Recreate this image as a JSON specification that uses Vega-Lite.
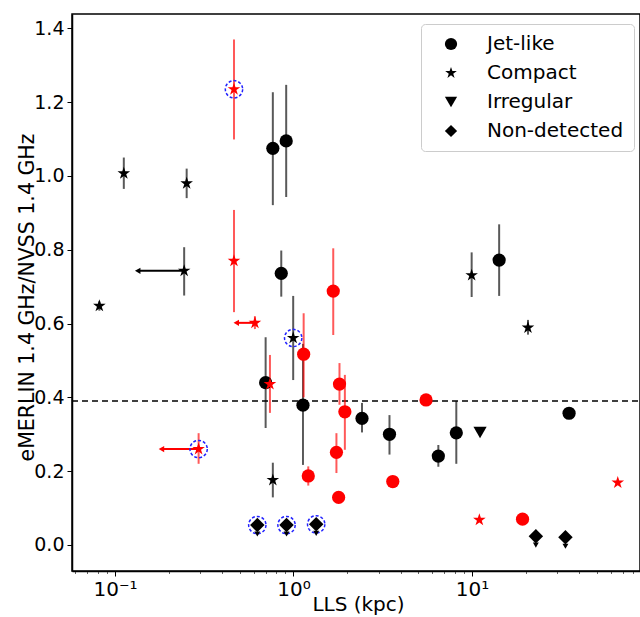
{
  "$schema": "https://vega.github.io/schema/vega-lite/v6.json",
  "autosize": {"type": "none"},
  "padding": {"left": 72, "top": 14, "right": 0, "bottom": 46},
  "width": 568,
  "height": 557,
  "background": "white",
  "config": {
    "view": {"stroke": "black", "strokeWidth": 1.5},
    "font": "DejaVu Sans",
    "axis": {"domainColor": "black", "domainWidth": 1.5, "tickColor": "black", "labelColor": "black", "titleColor": "black", "grid": false, "labelFont": "DejaVu Sans", "titleFont": "DejaVu Sans", "titleFontWeight": "normal"}
  },
  "datasets": {
    "pts": [
      {"x": 0.112, "y": 1.007, "lo": 0.965, "hi": 1.05, "cls": "Compact", "col": "k"},
      {"x": 0.252, "y": 0.980, "lo": 0.94, "hi": 1.02, "cls": "Compact", "col": "k"},
      {"x": 0.0817, "y": 0.648, "lo": 0.635, "hi": 0.66, "cls": "Compact", "col": "k"},
      {"x": 0.244, "y": 0.743, "lo": 0.676, "hi": 0.807, "xa": 0.134, "cls": "Compact", "col": "k"},
      {"x": 0.996, "y": 0.561, "lo": 0.447, "hi": 0.675, "cls": "Compact", "col": "k", "ring": 1},
      {"x": 0.766, "y": 0.176, "lo": 0.129, "hi": 0.223, "cls": "Compact", "col": "k"},
      {"x": 9.96, "y": 0.731, "lo": 0.672, "hi": 0.793, "cls": "Compact", "col": "k"},
      {"x": 20.6, "y": 0.589, "lo": 0.57, "hi": 0.61, "cls": "Compact", "col": "k"},
      {"x": 0.766, "y": 1.075, "lo": 0.921, "hi": 1.227, "cls": "Jet-like", "col": "k"},
      {"x": 0.91, "y": 1.095, "lo": 0.943, "hi": 1.247, "cls": "Jet-like", "col": "k"},
      {"x": 0.854, "y": 0.736, "lo": 0.673, "hi": 0.798, "cls": "Jet-like", "col": "k"},
      {"x": 0.698, "y": 0.440, "lo": 0.317, "hi": 0.563, "cls": "Jet-like", "col": "k"},
      {"x": 1.13, "y": 0.379, "lo": 0.217, "hi": 0.545, "cls": "Jet-like", "col": "k"},
      {"x": 14.2, "y": 0.772, "lo": 0.675, "hi": 0.869, "cls": "Jet-like", "col": "k"},
      {"x": 2.42, "y": 0.343, "lo": 0.305, "hi": 0.385, "cls": "Jet-like", "col": "k"},
      {"x": 3.45, "y": 0.300, "lo": 0.245, "hi": 0.352, "cls": "Jet-like", "col": "k"},
      {"x": 6.48, "y": 0.241, "lo": 0.212, "hi": 0.271, "cls": "Jet-like", "col": "k"},
      {"x": 8.17, "y": 0.304, "lo": 0.22, "hi": 0.39, "cls": "Jet-like", "col": "k"},
      {"x": 35.0, "y": 0.357, "cls": "Jet-like", "col": "k"},
      {"x": 11.1, "y": 0.305, "cls": "Irregular", "col": "k"},
      {"x": 0.627, "y": 0.054, "cls": "Non-detected", "col": "k", "ring": 1},
      {"x": 0.914, "y": 0.054, "cls": "Non-detected", "col": "k", "ring": 1},
      {"x": 1.34, "y": 0.056, "cls": "Non-detected", "col": "k", "ring": 1},
      {"x": 22.8, "y": 0.024, "cls": "Non-detected", "col": "k"},
      {"x": 33.4, "y": 0.021, "cls": "Non-detected", "col": "k"},
      {"x": 0.464, "y": 1.235, "lo": 1.099, "hi": 1.370, "cls": "Compact", "col": "r", "ring": 1},
      {"x": 0.464, "y": 0.770, "lo": 0.631, "hi": 0.908, "cls": "Compact", "col": "r"},
      {"x": 0.608, "y": 0.602, "lo": 0.585, "hi": 0.62, "xa": 0.478, "cls": "Compact", "col": "r"},
      {"x": 0.738, "y": 0.436, "lo": 0.358, "hi": 0.515, "cls": "Compact", "col": "r"},
      {"x": 0.294, "y": 0.260, "lo": 0.220, "hi": 0.303, "xa": 0.182, "cls": "Compact", "col": "r", "ring": 1},
      {"x": 11.0, "y": 0.068, "cls": "Compact", "col": "r"},
      {"x": 65.6, "y": 0.169, "cls": "Compact", "col": "r"},
      {"x": 1.14, "y": 0.517, "lo": 0.40, "hi": 0.628, "cls": "Jet-like", "col": "r"},
      {"x": 1.21, "y": 0.187, "lo": 0.161, "hi": 0.213, "cls": "Jet-like", "col": "r"},
      {"x": 1.67, "y": 0.688, "lo": 0.569, "hi": 0.804, "cls": "Jet-like", "col": "r"},
      {"x": 1.81, "y": 0.436, "lo": 0.38, "hi": 0.493, "cls": "Jet-like", "col": "r"},
      {"x": 1.94, "y": 0.361, "lo": 0.258, "hi": 0.461, "cls": "Jet-like", "col": "r"},
      {"x": 1.74, "y": 0.251, "lo": 0.195, "hi": 0.303, "cls": "Jet-like", "col": "r"},
      {"x": 1.79, "y": 0.129, "cls": "Jet-like", "col": "r"},
      {"x": 3.6, "y": 0.172, "cls": "Jet-like", "col": "r"},
      {"x": 5.53, "y": 0.393, "lo": 0.38, "hi": 0.405, "cls": "Jet-like", "col": "r"},
      {"x": 19.2, "y": 0.070, "cls": "Jet-like", "col": "r"}
    ]
  },
  "data": {"name": "pts"},
  "encoding": {
    "x": {"field": "x", "type": "quantitative",
      "scale": {"type": "log", "domain": [0.0574, 87.4], "nice": false},
      "axis": {
        "title": "LLS (kpc)", "titleFontSize": 20, "titleX": 286, "titleY": 39, "titleBaseline": "alphabetic", "titleAlign": "center",
        "values": [0.06,0.07,0.08,0.09,0.1,0.2,0.3,0.4,0.5,0.6,0.7,0.8,0.9,1,2,3,4,5,6,7,8,9,10,20,30,40,50,60,70,80],
        "labelExpr": "datum.value==0.1?'10⁻¹':datum.value==1?'10⁰':datum.value==10?'10¹':''",
        "labelFontSize": 20, "labelPadding": 3, "labelFlush": false, "labelOverlap": false,
        "tickSize": {"condition": {"test": "datum.value==0.1||datum.value==1||datum.value==10", "value": 5}, "value": 2.5},
        "tickOpacity": {"condition": {"test": "datum.value==0.1||datum.value==1||datum.value==10", "value": 1}, "value": 0.6}
      }
    },
    "y": {"field": "y", "type": "quantitative",
      "scale": {"domain": [-0.0705, 1.439], "nice": false, "zero": false},
      "axis": {
        "title": "eMERLIN 1.4 GHz/NVSS 1.4 GHz", "titleFontSize": 20.5, "titleX": -45, "titleY": 283, "titleBaseline": "middle", "titleAlign": "center", "titleAngle": -90,
        "values": [0, 0.2, 0.4, 0.6, 0.8, 1.0, 1.2, 1.4], "format": ".1f",
        "labelFontSize": 19, "tickSize": 5, "labelPadding": 3
      }
    }
  },
  "layer": [
    {
      "data": {"values": [{"v": 0.39}]},
      "mark": {"type": "rule", "color": "black", "strokeDash": [6, 4], "strokeWidth": 1.5},
      "encoding": {"y": {"field": "v", "type": "quantitative"}, "x": {"value": 0}, "x2": {"value": 568}}
    },
    {
      "transform": [{"filter": "isValid(datum.lo)"}],
      "mark": {"type": "rule", "strokeWidth": 2, "strokeOpacity": 0.65},
      "encoding": {
        "y": {"field": "lo", "type": "quantitative"},
        "y2": {"field": "hi"},
        "color": {"field": "col", "type": "nominal", "scale": {"domain": ["k", "r"], "range": ["black", "red"]}, "legend": null}
      }
    },
    {
      "transform": [{"filter": "isValid(datum.xa)"}],
      "mark": {"type": "rule", "strokeWidth": 2},
      "encoding": {
        "x2": {"field": "xa"},
        "color": {"field": "col", "type": "nominal", "scale": {"domain": ["k", "r"], "range": ["black", "red"]}, "legend": null}
      }
    },
    {
      "transform": [{"filter": "isValid(datum.xa)"}],
      "mark": {"type": "point", "shape": "triangle-left", "filled": true, "size": 40, "opacity": 1},
      "encoding": {
        "x": {"field": "xa", "type": "quantitative"},
        "color": {"field": "col", "type": "nominal", "scale": {"domain": ["k", "r"], "range": ["black", "red"]}, "legend": null}
      }
    },
    {
      "transform": [{"filter": "datum.ring == 1"}],
      "mark": {"type": "point", "shape": "circle", "filled": false, "size": 300, "stroke": "#2222ff", "strokeWidth": 1.5, "strokeDash": [3, 2], "opacity": 1}
    },
    {
      "transform": [{"filter": "datum.cls == 'Non-detected'"}],
      "mark": {"type": "point", "shape": "triangle-down", "filled": true, "size": 35, "color": "black", "yOffset": 9, "opacity": 1}
    },
    {
      "transform": [{"filter": "datum.cls == 'Non-detected'"}],
      "mark": {"type": "point", "shape": "diamond", "filled": true, "size": 210, "color": "black", "opacity": 1}
    },
    {
      "transform": [{"filter": "datum.cls != 'Non-detected'"}],
      "mark": {"type": "point", "filled": true, "opacity": 1, "size": 175},
      "encoding": {
        "color": {"field": "col", "type": "nominal", "scale": {"domain": ["k", "r"], "range": ["black", "red"]}, "legend": null},
        "shape": {"field": "cls", "type": "nominal",
          "scale": {"domain": ["Jet-like", "Compact", "Irregular", "Non-detected"], "range": ["circle", "M0,-1L0.2245,-0.309L0.951,-0.309L0.363,0.118L0.588,0.809L0,0.382L-0.588,0.809L-0.363,0.118L-0.951,-0.309L-0.2245,-0.309Z", "triangle-down", "diamond"]},
          "legend": {"title": null, "orient": "none", "legendX": 349, "legendY": 10,
            "fillColor": "white", "strokeColor": "#cccccc", "cornerRadius": 4, "padding": 10,
            "symbolFillColor": "black", "symbolStrokeColor": "black", "symbolStrokeWidth": 0, "symbolOpacity": 1,
            "symbolSize": 150, "symbolOffset": 10, "labelOffset": 26, "labelFontSize": 20, "labelFont": "DejaVu Sans",
            "labelColor": "black", "rowPadding": 9, "labelLimit": 300}
        }
      }
    }
  ]
}
